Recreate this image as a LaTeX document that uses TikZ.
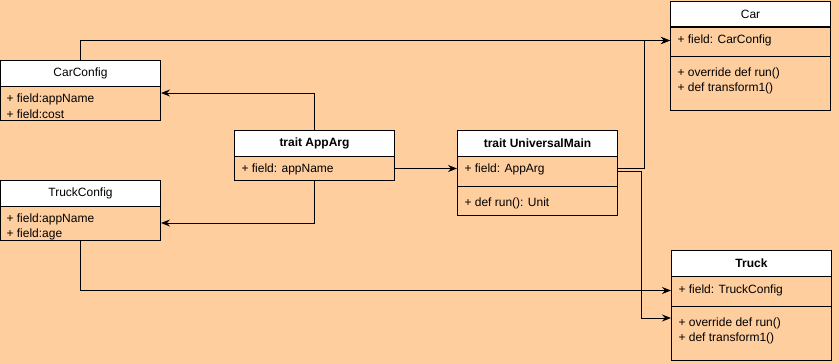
\documentclass[tikz,border=0pt]{standalone}
\usepackage{fontspec}
\setmainfont{Liberation Sans}
\usetikzlibrary{arrows.meta}
\definecolor{peach}{HTML}{FFCE9F}
\tikzstyle{header} = [draw=black, fill=white, anchor=north west, minimum width=160pt, minimum height=26pt, inner sep=0pt, font=\fontsize{12}{14}\selectfont]
\tikzstyle{trait}  = [header, font=\fontsize{12}{14}\selectfont\bfseries]
\tikzstyle{part}   = [draw=black, anchor=north west, minimum width=160pt, inner sep=0pt]
\tikzstyle{member} = [anchor=west, inner sep=0pt, font=\fontsize{12}{14}\selectfont]
\tikzstyle{arrow}  = [-{Stealth[length=9pt,width=7pt,inset=3pt]}]

\begin{document}
\begin{tikzpicture}[x=1pt, y=-1pt, line width=1pt]
      \fill[peach] (0,0) rectangle (839,364);
      \useasboundingbox (0,0) rectangle (839,364);
      % CarConfig
      \node[header] (carconfig) at (0,60) {CarConfig};
      \node[part, minimum height=34pt] (carconfigbody) at (0,86) {};
      \node[member] (carconfigname) at (6,99.5) {+ field:appName};
      \node[member] (carconfigcost) at (6,114) {+ field:cost};
      % TruckConfig
      \node[header] (truckconfig) at (0,180) {TruckConfig};
      \node[part, minimum height=34pt] (truckconfigbody) at (0,206) {};
      \node[member] (truckconfigname) at (6,219.5) {+ field:appName};
      \node[member] (truckconfigage) at (6,234) {+ field:age};
      % trait AppArg
      \node[trait] (apparg) at (234,130) {trait AppArg};
      \node[part, minimum height=24pt] (appargbody) at (234,156) {};
      \node[member] (appargname) at (241,169) {+ field: appName};
      % trait UniversalMain
      \node[trait] (universal) at (457,130) {trait UniversalMain};
      \node[part, minimum height=30pt] (universalfields) at (457,156) {};
      \node[part, minimum height=29pt] (universalmethods) at (457,186) {};
      \node[member] (universalarg) at (464,169) {+ field: AppArg};
      \node[member] (universalrun) at (464,203) {+ def run(): Unit};
      % Car
      \node[header] (car) at (670,0.5) {Car};
      \node[part, minimum height=30pt] (carfields) at (670,26) {};
      \node[part, minimum height=54pt] (carmethods) at (670,56) {};
      \node[member] (carconf) at (677,40) {+ field: CarConfig};
      \node[member] (carrun) at (677,73.5) {+ override def run()};
      \node[member] (cartransform) at (677,88.5) {+ def transform1()};
      % Truck
      \node[trait] (truck) at (671,250) {Truck};
      \node[part, minimum height=30pt] (truckfields) at (671,276) {};
      \node[part, minimum height=54pt] (truckmethods) at (671,306) {};
      \node[member] (truckconf) at (678,290) {+ field: TruckConfig};
      \node[member] (truckrun) at (678,323.5) {+ override def run()};
      \node[member] (trucktransform) at (678,338.5) {+ def transform1()};

      % connectors
      \draw[arrow] (carconfig.north) |- ([yshift=1pt]carfields.west);
      \draw[arrow] (apparg.north) |- ([yshift=-7pt]carconfigbody.north east);
      \draw[arrow] (appargbody.south) |- ([yshift=-17pt]truckconfigbody.north east);
      \draw[arrow] (appargbody.east) -- (appargbody.east -| universalfields.west);
      \draw[arrow] (truckconfigbody.south) |- ([yshift=1pt]truckfields.west);
      \draw[arrow] ([yshift=3pt]universalfields.east) -- ++(26,0) |- ([yshift=1pt]carfields.west);
      \draw[arrow] (universalfields.east) -- ++(23,0) |- ([yshift=-12pt]truckmethods.north west);
\end{tikzpicture}
\end{document}
